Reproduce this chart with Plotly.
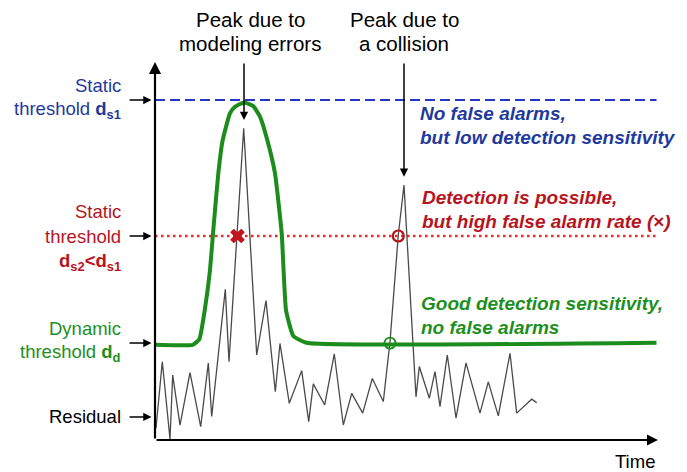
import plotly.graph_objects as go

# ---------------- data (time units, signal units) ----------------
res_time = [0.2, 1.46, 3.0, 3.54, 5.0, 7.0, 9.14, 10.66, 11.34, 14.06, 14.8, 17.74,
            20.34, 22.2, 24.06, 25.0, 26.86, 29.34, 30.74, 31.66, 33.94, 35.86, 37.66,
            39.34, 41.54, 43.46, 45.66, 47.0, 48.66, 49.8, 52.2, 52.86, 54.86, 56.0,
            57.0, 58.46, 60.2, 62.2, 65.0, 66.66, 68.66, 71.0, 72.34, 75.34, 76.34]
res_value = [3.5, 23.0, 0.3, 19.1, 4.4, 19.8, 3.9, 22.6, 6.9, 44.3, 23.0, 91.7,
             25.0, 41.0, 14.2, 28.4, 10.8, 20.4, 5.4, 16.5, 10.3, 25.3, 4.4,
             13.7, 7.9, 18.1, 11.3, 28.9, 60.3, 75.0, 12.7, 21.6, 12.3, 20.1,
             9.8, 25.0, 6.4, 22.7, 7.9, 17.1, 7.1, 25.5, 7.9, 12.0, 11.0]

dyn_time = [0.0, 7.54, 8.86, 10.0, 11.0, 11.66, 12.66, 13.54, 15.0, 16.0, 17.8,
            19.66, 21.0, 22.46, 24.0, 25.34, 26.2, 27.66, 30.34, 100.3]
dyn_value = [28.0, 28.0, 29.6, 38.7, 50.0, 61.8, 78.4, 88.2, 96.1, 98.0, 99.3,
             98.2, 95.1, 88.2, 78.4, 60.8, 38.2, 30.6, 28.6, 28.6]

DS1 = 100.0          # static threshold d_s1
DS2 = 60.0           # static threshold d_s2
DD = 28.5            # dynamic threshold level (flat part)
T_END = 100.3        # end of threshold lines
T_AXIS_END = 100.6   # time axis arrow end
V_AXIS_END = 111.2   # vertical axis arrow end
RESIDUAL_LEVEL = 6.8

false_alarm_t = 16.5     # red x on d_s2
collision_ds2_t = 48.66  # red circle
collision_dd_t = 47.0    # green circle
peak_model_t = 17.8
peak_model_v = 94.1
peak_coll_t = 49.8
peak_coll_v = 77.4

# ---------------- figure ----------------
W, H = 687, 472
FONT = "Liberation Sans, Arial, sans-serif"
BLUE_LINE = "#2637c8"
BLUE_TXT = "#1f3a9c"
RED_LINE = "#f02828"
RED_TXT = "#b8141e"
GREEN = "#1c8c1c"
GREEN_TXT = "#1e8f1e"

fig = go.Figure()

fig.add_trace(go.Scatter(x=[0, T_END], y=[DS1, DS1], mode="lines",
                         line=dict(color=BLUE_LINE, width=1.8, dash="10px,5px"),
                         hoverinfo="skip"))
fig.add_trace(go.Scatter(x=[0, T_END], y=[DS2, DS2], mode="lines",
                         line=dict(color=RED_LINE, width=2.6, dash="2.5px,3.5px"),
                         hoverinfo="skip"))
fig.add_trace(go.Scatter(x=res_time, y=res_value, mode="lines",
                         line=dict(color="#4a4a4a", width=1.3),
                         hoverinfo="skip"))
fig.add_trace(go.Scatter(x=dyn_time, y=dyn_value, mode="lines",
                         line=dict(color=GREEN, width=4, shape="spline", smoothing=0.4),
                         hoverinfo="skip"))
fig.add_trace(go.Scatter(x=[false_alarm_t], y=[DS2], mode="markers",
                         marker=dict(symbol="x", size=13, color="#c0141e",
                                     line=dict(width=0))))
fig.add_trace(go.Scatter(x=[collision_ds2_t], y=[DS2], mode="markers",
                         marker=dict(symbol="circle-open", size=11, color="#b5141e",
                                     line=dict(width=2.2))))
fig.add_trace(go.Scatter(x=[collision_dd_t], y=[DD], mode="markers",
                         marker=dict(symbol="circle-open", size=11, color=GREEN,
                                     line=dict(width=1.8))))

ann = []


def arrow(x0, y0, x1, y1, width=1.5):
    ann.append(dict(x=x1, y=y1, ax=x0, ay=y0, xref="x", yref="y", axref="x", ayref="y",
                    text="", showarrow=True, arrowhead=2, arrowsize=1.1,
                    arrowwidth=width, arrowcolor="black"))


# axes
arrow(0, 0, 0, V_AXIS_END, 2.2)
arrow(0, 0, T_AXIS_END, 0, 2.0)
# label arrows
for lvl in [DS1, DS2, DD, RESIDUAL_LEVEL]:
    arrow(-5.4, lvl, -0.7, lvl, 1.5)
# peak arrows
arrow(peak_model_t, V_AXIS_END, peak_model_t, peak_model_v, 1.5)
arrow(peak_coll_t, V_AXIS_END, peak_coll_t, peak_coll_v, 1.5)


def px(x):
    return x / W


def py(y):
    return 1 - y / H


def text(t, x, y, color="black", size=18.5, anchor="right"):
    ann.append(dict(text=t, x=px(x), y=py(y), xref="paper", yref="paper",
                    xanchor=anchor, yanchor="middle", showarrow=False,
                    font=dict(family=FONT, size=size, color=color)))


# left labels
text("Static", 123, 86, BLUE_TXT)
text("threshold <b>d<sub>s1</sub></b>", 123, 110, BLUE_TXT)
text("Static", 123, 211, RED_TXT)
text("threshold", 123, 236, RED_TXT)
text("<b>d<sub>s2</sub>&lt;d<sub>s1</sub></b>", 123, 262, RED_TXT)
text("Dynamic", 123, 328, GREEN_TXT)
text("threshold <b>d<sub>d</sub></b>", 123, 353, GREEN_TXT)
text("Residual", 123, 416, "black")

# top labels
text("Peak due to", 250, 19, "black", 20.5, "center")
text("modeling errors", 250, 44, "black", 20.5, "center")
text("Peak due to", 404, 19, "black", 20.5, "center")
text("a collision", 404, 44, "black", 20.5, "center")

# right annotations
text("<b><i>No false alarms,</i></b>", 418, 113, BLUE_TXT, 19, "left")
text("<b><i>but low detection sensitivity</i></b>", 418, 137, BLUE_TXT, 19, "left")
text("<b><i>Detection is possible,</i></b>", 420, 197, RED_TXT, 19, "left")
text("<b><i>but high false alarm rate (</i>×<i>)</i></b>", 420, 221, RED_TXT, 19, "left")
text("<b><i>Good detection sensitivity,</i></b>", 419, 303, GREEN_TXT, 19, "left")
text("<b><i>no false alarms</i></b>", 419, 327, GREEN_TXT, 19, "left")

text("Time", 635, 461, "black", 18.5, "center")

fig.update_layout(
    width=W, height=H,
    margin=dict(l=0, r=0, t=0, b=0),
    paper_bgcolor="white", plot_bgcolor="white",
    showlegend=False,
    xaxis=dict(range=[-31.0, 106.4], visible=False, fixedrange=True),
    yaxis=dict(range=[-9.41, 129.41], visible=False, fixedrange=True),
    annotations=ann,
)

fig.write_html("out.html",
               config={"displayModeBar": False, "staticPlot": True},
               post_script="document.body.style.margin='0';document.body.style.overflow='hidden';")
